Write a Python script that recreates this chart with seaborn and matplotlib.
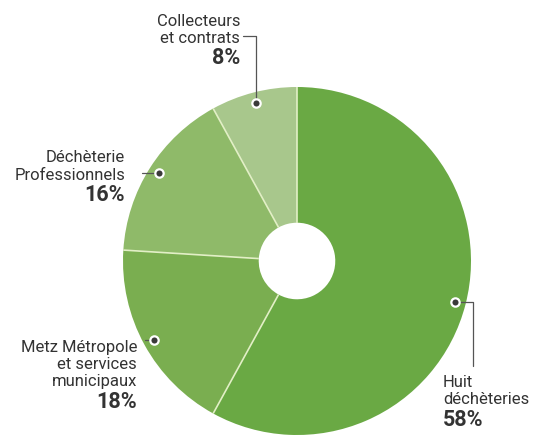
import numpy as np
import matplotlib
matplotlib.use("Agg")
import matplotlib.pyplot as plt
import seaborn as sns

# data
labels = [["Huit", "déchèteries"],
          ["Metz Métropole", "et services", "municipaux"],
          ["Déchèterie", "Professionnels"],
          ["Collecteurs", "et contrats"]]
shares = [58, 18, 16, 8]
colors = ["#6aa944", "#7aae50", "#8fba69", "#a8c78c"]

sns.set_theme(style="white")
plt.rcParams['font.family'] = ['Roboto', 'DejaVu Sans']

W, H = 539, 439
fig = plt.figure(figsize=(W / 100, H / 100), dpi=100)
ax = fig.add_axes([0, 0, 1, 1])

cx, cy, R = 297, H - 262, 174
hole = 0.22
wedges, _ = ax.pie(shares, colors=colors, startangle=90, counterclock=False,
                   center=(cx, cy), radius=R,
                   wedgeprops=dict(width=R * (1 - hole), linewidth=0))
ax.set_xlim(0, W)
ax.set_ylim(0, H)
ax.set_aspect("equal")
ax.axis("off")

# thin light separators between the slices
for w in wedges:
    a = np.deg2rad(w.theta1)
    ax.plot([cx + hole * R * np.cos(a), cx + R * np.cos(a)],
            [cy + hole * R * np.sin(a), cy + R * np.sin(a)],
            color="#e2efc6", lw=1.2, solid_capstyle="butt", zorder=2)

# label layout: leader elbows (pixel coords from top-left), text anchor, alignment
layout = [
    dict(path=[(473, None), (473, 367)], text=(443, 383), ha="left"),
    dict(path=[(145, None)], text=(137, 348), ha="right"),
    dict(path=[(142, None)], text=(125, 158), ha="right"),
    dict(path=[(None, 37), (243, 37)], text=(240, 21), ha="right"),
]

txt_col = "#333333"
line_step = 17
for w, lab, pct, lay in zip(wedges, labels, shares, layout):
    mid = np.deg2rad((w.theta1 + w.theta2) / 2)
    dx = cx + 0.94 * R * np.cos(mid)
    dy = cy + 0.94 * R * np.sin(mid)
    pts = [(dx, dy)]
    for px, py in lay["path"]:
        x = pts[-1][0] if px is None else px
        y = pts[-1][1] if py is None else H - py
        pts.append((x, y))
    xs, ys = zip(*pts)
    ax.plot(xs, ys, color="#555555", lw=0.9, zorder=3)
    ax.scatter([dx], [dy], s=36, color="#3a3a3a", edgecolor="white", linewidth=1.6, zorder=4)

    tx, ty = lay["text"]
    for i, line in enumerate(lab):
        ax.text(tx, H - (ty + i * line_step), line, ha=lay["ha"], va="center",
                fontsize=12, color=txt_col)
    ax.text(tx, H - (ty + len(lab) * line_step + 3), f"{pct}%", ha=lay["ha"], va="center",
            fontsize=15.5, fontweight="bold", color=txt_col)

fig.savefig("out.png", dpi=100)
